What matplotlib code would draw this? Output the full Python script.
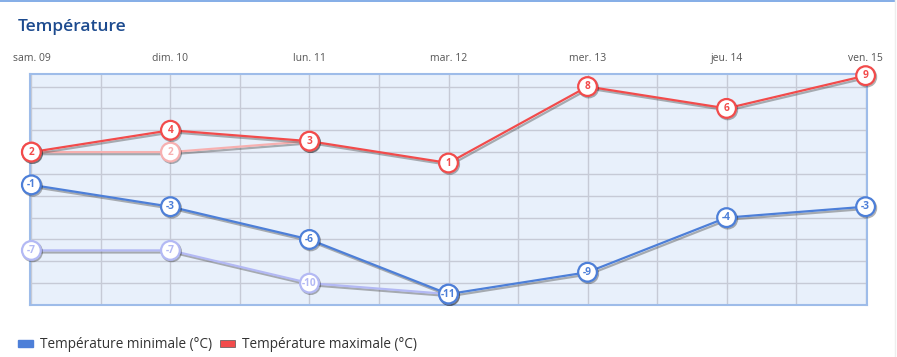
import matplotlib
matplotlib.use("Agg")
import matplotlib.pyplot as plt
import matplotlib.patheffects as pe
import matplotlib.transforms as mtrans
from matplotlib.patches import Patch
from matplotlib.lines import Line2D

plt.rcParams['font.family'] = ['Open Sans', 'DejaVu Sans']

# données
days = ["sam. 09", "dim. 10", "lun. 11", "mar. 12", "mer. 13", "jeu. 14", "ven. 15"]
t_min = [-1, -3, -6, -11, -9, -4, -3]
t_max = [2, 4, 3, 1, 8, 6, 9]
# anciennes prévisions (courbes pâles)
t_min_prev = [-7, -7, -10, -11]
t_max_prev = [2, 2, 3]

BLUE = "#4d7fd8"
RED = "#f24b4b"
BLUE_L = "#b3b9f4"
RED_L = "#f7b0b0"

fig = plt.figure(figsize=(8.97, 3.57), dpi=100)
ax = fig.add_axes([30 / 897, 1 - 305 / 357, 837 / 897, 231 / 357])
ax.set_facecolor("#e8f0fb")

x = list(range(len(days)))
shadow = [pe.SimpleLineShadow(offset=(1.2, -1.5), shadow_color="#555555", alpha=0.45), pe.Normal()]


def draw(vals, color, z, lw=1.6):
    xs = x[:len(vals)]
    ax.plot(xs, vals, color=color, lw=lw, zorder=z, path_effects=shadow,
            solid_capstyle="round", clip_on=False)
    ax.plot(xs, vals, ls="none", marker="o", ms=13.5, mfc="white", mec=color, mew=1.6,
            zorder=z + 1, clip_on=False,
            path_effects=[pe.SimpleLineShadow(offset=(0.8, -1), alpha=0.3), pe.Normal()])
    for xi, v in zip(xs, vals):
        ax.text(xi, v, str(v), color=color, fontsize=7.3, fontweight="bold",
                ha="center", va="center", zorder=z + 2, clip_on=False)


draw(t_min_prev, BLUE_L, 3)
draw(t_max_prev, RED_L, 3)
draw(t_min, BLUE, 6)
draw(t_max, RED, 6)

ax.set_xlim(-0.01, 6.01)
ax.set_ylim(-12, 9.15)
ax.set_xticks([i * 0.5 for i in range(13)])
ax.set_yticks(range(-12, 10, 2))
ax.grid(True, color="#c6cad6", lw=1)
ax.set_axisbelow(True)
ax.tick_params(length=0, labelleft=False, labelbottom=False)
for s in ax.spines.values():
    s.set_color("#9ebce9")
    s.set_linewidth(1.5)

# libellés des jours en haut
top = ax.get_xaxis_transform() + mtrans.ScaledTranslation(0, 10 / 100, fig.dpi_scale_trans)
for xi, d in zip(x, days):
    ax.text(xi, 1.0, d, transform=top, ha="center", va="bottom",
            fontsize=7.5, color="#555555", clip_on=False)

fig.text(18 / 897, 1 - 27 / 357, "Température", fontsize=12.5, color="#1d4b8f",
         va="center", ha="left", fontweight="semibold")

# bordure de la carte
fig.add_artist(Line2D([0, 895 / 897], [1 - 0.5 / 357] * 2, color="#6f9fe3", lw=1.2))
fig.add_artist(Line2D([895 / 897] * 2, [0, 1], color="#eeeeee", lw=1))

handles = [Patch(facecolor=BLUE, edgecolor=BLUE, label="Température minimale (°C)"),
           Patch(facecolor=RED, edgecolor="#555555", lw=0.5, label="Température maximale (°C)")]
fig.legend(handles=handles, loc="center left", bbox_to_anchor=(6 / 897, 1 - 345 / 357),
           ncol=2, frameon=False, fontsize=9.8, handlelength=1.1, handleheight=0.45,
           handletextpad=0.5, columnspacing=0.6, labelcolor="#333333")

fig.savefig("out.png", dpi=100)
